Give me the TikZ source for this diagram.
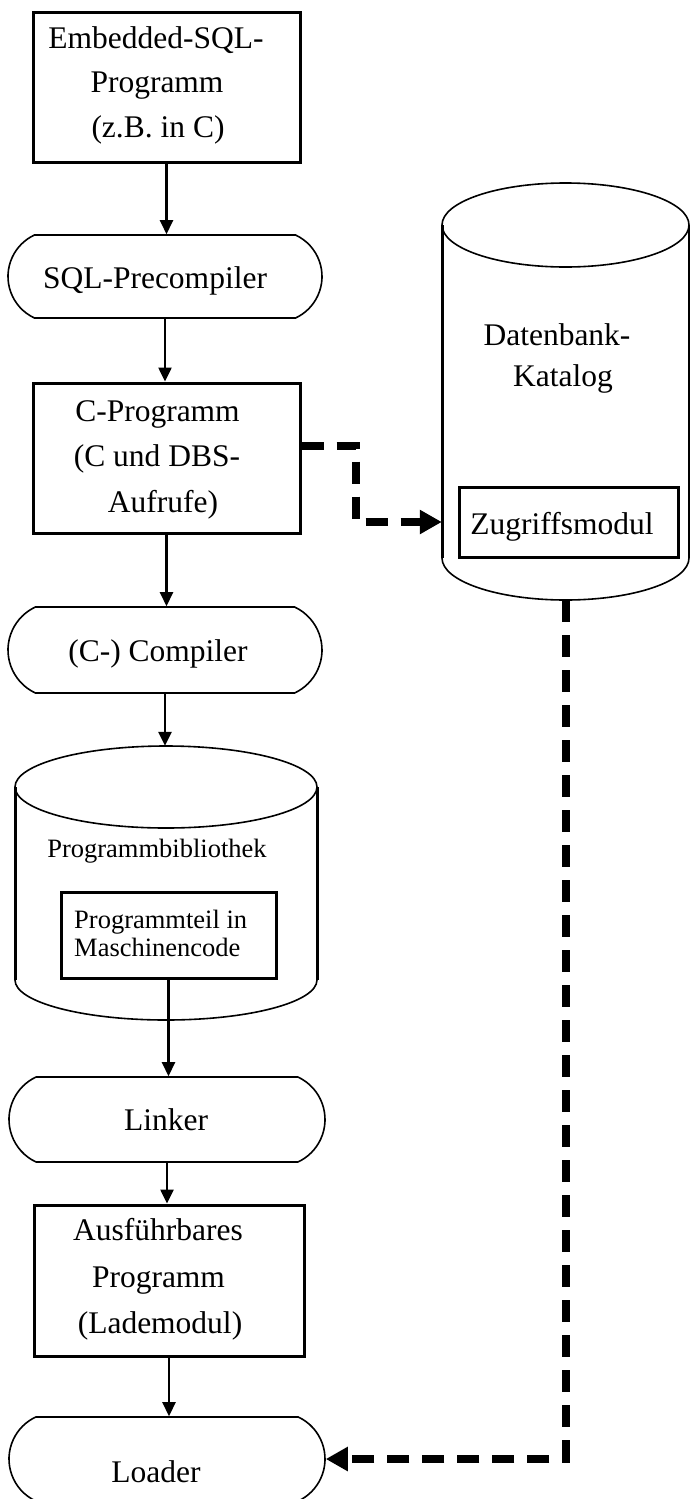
\documentclass[tikz,border=0pt]{standalone}
\usepackage{fontspec}
\setmainfont{Liberation Serif}
\usetikzlibrary{arrows.meta,shapes.misc,calc}
\begin{document}
\begin{tikzpicture}[x=1pt,y=-1pt,
  box/.style={draw, line width=3pt, rectangle, inner sep=0pt},
  term/.style={draw, line width=1.6pt, rounded rectangle, rounded rectangle arc length=130, inner sep=0pt},
  ghost/.style={draw=none, rectangle, inner sep=0pt},
  txt/.style={anchor=base, inner sep=0pt, font=\fontsize{31.5}{38}\selectfont},
  smalltxt/.style={anchor=base, inner sep=0pt, font=\fontsize{26.5}{30}\selectfont},
  flow/.style={line width=2.5pt, -{Triangle[length=14pt,width=13pt]}},
  dep/.style={line width=8pt, line join=miter, dash pattern=on 22pt off 13pt, -{Triangle[length=22pt,width=23pt]}},
  thinline/.style={line width=1.6pt},
  thickline/.style={line width=3pt},
]
\useasboundingbox (0,0) rectangle (690,1499);

% shapes of the left column
\node[box, minimum width=267pt, minimum height=150pt] (A) at (166.5,87) {};
\node[term, minimum width=314pt, minimum height=83pt] (B) at (165,276.5) {};
\node[box, minimum width=267pt, minimum height=150pt] (C) at (166.5,458) {};
\node[term, minimum width=314pt, minimum height=86pt] (D) at (165,650) {};
\node[ghost, minimum width=302pt, minimum height=274pt] (E) at (166,883) {};
\node[box, minimum width=215pt, minimum height=86pt] (F) at (168.5,935) {};
\node[term, minimum width=316pt, minimum height=85pt] (G) at (167,1119.5) {};
\node[box, minimum width=270pt, minimum height=151pt] (H) at (169,1280.5) {};
\node[term, minimum width=316pt, minimum height=84pt] (I) at (167,1459) {};

% right column
\node[ghost, minimum width=247pt, minimum height=417pt] (J) at (565.5,391.5) {};
\node[box, minimum width=219pt, minimum height=70pt] (K) at (568.5,522) {};

% cylinder Programmbibliothek
\draw[thinline] (166,787) ellipse [x radius=151pt, y radius=41pt];
\draw[thickline] (15,787) -- (15,980) (317,787) -- (317,980);
\draw[thinline] (15,980) arc[start angle=180, end angle=360, x radius=151pt, y radius=40pt];

% cylinder Datenbank-Katalog
\draw[thinline] (565.5,225) ellipse [x radius=123.5pt, y radius=42pt];
\draw[thickline] (442,225) -- (442,558) (689,225) -- (689,558);
\draw[thinline] (442,558) arc[start angle=180, end angle=360, x radius=123.5pt, y radius=42pt];

% texts
\node[txt] (a1) at (156,48) {Embedded-SQL-};
\node[txt] (a2) at (157,92) {Programm};
\node[txt] (a3) at (158,137) {(z.B. in C)};
\node[txt] (b1) at (155,288) {SQL-Precompiler};
\node[txt] (c1) at (157.5,421) {C-Programm};
\node[txt] (c2) at (157,466) {(C und DBS-};
\node[txt] (c3) at (163,512) {Aufrufe)};
\node[txt] (d1) at (158,661) {(C-) Compiler};
\node[smalltxt] (e1) at (157,857) {Programmbibliothek};
\node[smalltxt, anchor=base west] (f1) at (74,928) {Programmteil in};
\node[smalltxt, anchor=base west] (f2) at (74,956) {Maschinencode};
\node[txt] (g1) at (166,1130) {Linker};
\node[txt] (h1) at (158,1240) {Ausführbares};
\node[txt] (h2) at (158.5,1287) {Programm};
\node[txt] (h3) at (160,1333) {(Lademodul)};
\node[txt] (i1) at (156,1482) {Loader};
\node[txt] (j1) at (557,345) {Datenbank-};
\node[txt] (j2) at (563,386) {Katalog};
\node[txt] (k1) at (562,534) {Zugriffsmodul};

% solid flow arrows
\draw[flow] (A.south) -- (A.south |- B.north);
\draw[flow] (B.south) -- (B.south |- C.north);
\draw[flow] (C.south) -- (C.south |- D.north);
\draw[flow] (D.south) -- (D.south |- E.north);
\draw[flow] (F.south) -- (F.south |- G.north);
\draw[flow] (G.south) -- (G.south |- H.north);
\draw[flow] (H.south) -- (H.south |- I.north);

% dashed dependency arrows
\coordinate (bend) at (356,522);
\draw[dep] ($(C.east)+(0,-12)$) -| (bend) -- (J.west |- K.west);
\draw[dep] (J.south) -- (J.south |- I.east) -- (I.east);
\end{tikzpicture}
\end{document}
